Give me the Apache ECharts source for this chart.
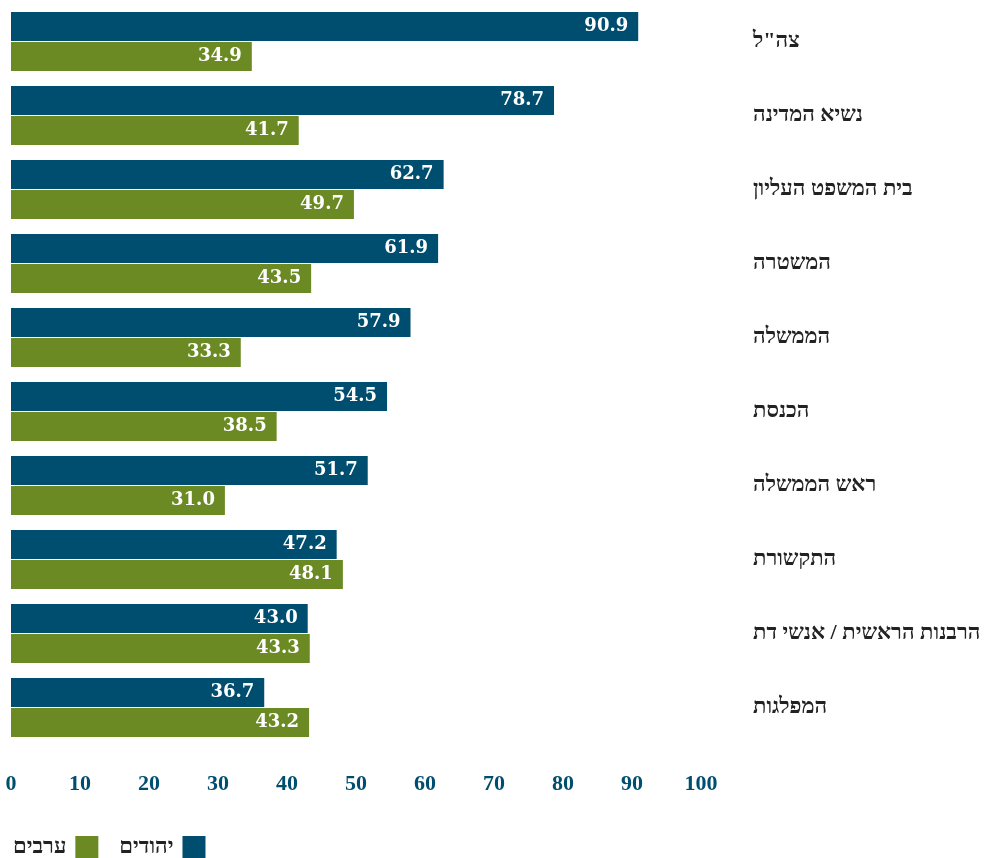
<!DOCTYPE html>
<html>
<head>
<meta charset="utf-8">
<script src="https://cdn.jsdelivr.net/npm/echarts@6/dist/echarts.min.js"></script>
<style>
html,body{margin:0;padding:0;background:#fff;}
#chart{width:989px;height:858px;}
</style>
</head>
<body>
<div id="chart"></div>
<script>
const categories = ['צה"ל', 'נשיא המדינה', 'בית המשפט העליון', 'המשטרה', 'הממשלה', 'הכנסת', 'ראש הממשלה', 'התקשורת', 'הרבנות הראשית / אנשי דת', 'המפלגות'];
const jewsName = 'יהודים';
const arabsName = 'ערבים';
const jewsValues = [90.9, 78.7, 62.7, 61.9, 57.9, 54.5, 51.7, 47.2, 43.0, 36.7];
const arabsValues = [34.9, 41.7, 49.7, 43.5, 33.3, 38.5, 31.0, 48.1, 43.3, 43.2];
const xTicks = [0, 10, 20, 30, 40, 50, 60, 70, 80, 90, 100];

const BLUE = '#004e6f';
const GREEN = '#6b8a23';

const chart = echarts.init(document.getElementById('chart'));
const valueLabel = {
  show: true,
  position: 'insideRight',
  distance: 10,
  color: '#fff',
  fontFamily: 'DejaVu Serif',
  fontWeight: 'bold',
  fontSize: 18,
  formatter: p => p.value.toFixed(1)
};
chart.setOption({
  animation: false,
  grid: { left: 11, top: 4.5, width: 690, height: 740 },
  legend: {
    left: 13, top: 836,
    padding: 0,
    align: 'right',
    icon: 'rect',
    itemWidth: 23, itemHeight: 22,
    itemGap: 21,
    data: [arabsName, jewsName],
    textStyle: { fontFamily: 'Liberation Serif', fontWeight: 'bold', fontSize: 22, color: '#222', padding: [0, 4, 0, 0] }
  },
  xAxis: {
    type: 'value', min: xTicks[0], max: xTicks[xTicks.length - 1], interval: 10,
    axisLine: { show: false }, axisTick: { show: false }, splitLine: { show: false },
    axisLabel: { color: BLUE, fontFamily: 'Liberation Serif', fontWeight: 'bold', fontSize: 22, margin: 29 }
  },
  yAxis: {
    type: 'category', data: categories, inverse: true, position: 'right',
    axisLine: { show: false }, axisTick: { show: false },
    axisLabel: { color: '#222', fontFamily: 'Liberation Serif', fontWeight: 'bold', fontSize: 22, margin: 52, align: 'left' }
  },
  series: [
    { name: jewsName, type: 'bar', data: jewsValues, itemStyle: { color: BLUE }, barWidth: 29, barGap: '3%', label: valueLabel },
    { name: arabsName, type: 'bar', data: arabsValues, itemStyle: { color: GREEN }, barWidth: 29, barGap: '3%', label: valueLabel }
  ]
});
</script>
</body>
</html>
